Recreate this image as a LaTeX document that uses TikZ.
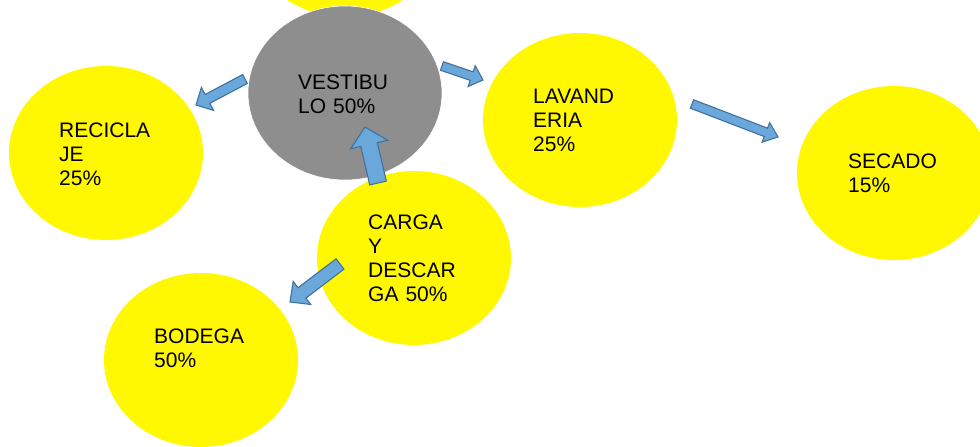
\documentclass[tikz,border=0pt]{standalone}
\usepackage{fontspec}
\setmainfont{Liberation Sans}
\usetikzlibrary{calc,shapes.geometric}

\definecolor{amarillo}{RGB}{255,248,0}
\definecolor{gris}{RGB}{142,142,142}
\definecolor{flecha}{RGB}{106,168,220}
\definecolor{bordeflecha}{RGB}{65,113,156}

% block arrow: tail, tip, half shaft, half head, head length
\newcommand\bloque[5]{%
  \coordinate (#2b) at ($(#2)!#5!(#1)$);
  \draw[flechabloque] ($(#1)!#3!90:(#2)$) -- ($(#2b)!#3!90:(#2)$)
    -- ($(#2b)!#4!90:(#2)$) -- (#2) -- ($(#2b)!#4!-90:(#2)$)
    -- ($(#2b)!#3!-90:(#2)$) -- ($(#1)!#3!-90:(#2)$) -- cycle;
}

\begin{document}
\begin{tikzpicture}[
x=1pt, y=-1pt,
bola/.style={
ellipse,
fill=amarillo,
minimum width=194pt,
minimum height=174pt,
inner sep=0pt
},
rotulo/.style={
anchor=base west,
inner sep=0pt,
align=left,
text width=120pt,
font=\fontsize{21}{24.3}\selectfont
},
flechabloque/.style={
draw=bordeflecha,
fill=flecha,
line width=1.1pt,
line join=miter
}
]
\useasboundingbox (0,0) rectangle (980,447);

\node[bola] (arriba) at (345,-70) {};
\node[bola] (rec) at (106,153) {};
\node[bola, fill=gris, draw=white, line width=0.6pt] (vest) at (345,93) {};
\node[bola] (lav) at (580,120) {};
\node[bola] (sec) at (894,173) {};
\node[bola] (car) at (414,258) {};
\node[bola] (bod) at (201,360) {};

\node[rotulo] (vest-t) at (298,89) {VESTIBU\\LO 50\%};
\node[rotulo] (rec-t) at (59,137) {RECICLA\\JE\\25\%};
\node[rotulo] (lav-t) at (533,103) {LAVAND\\ERIA\\25\%};
\node[rotulo] (sec-t) at (848,168) {SECADO\\15\%};
\node[rotulo] (car-t) at (368,229) {CARGA\\Y\\DESCAR\\GA 50\%};
\node[rotulo] (bod-t) at (154,343) {BODEGA\\50\%};

\coordinate (vr-cola) at (245,79);
\coordinate (vr-punta) at (196,105);
\coordinate (vl-cola) at (442,66);
\coordinate (vl-punta) at (483,80);
\coordinate (cv-cola) at (378,183);
\coordinate (cv-punta) at (365,127);
\coordinate (cb-cola) at (340,264);
\coordinate (cb-punta) at (290,302);
\coordinate (ls-cola) at (692,104);
\coordinate (ls-punta) at (778,137);

\bloque{vr-cola}{vr-punta}{5pt}{13pt}{13pt}
\bloque{vl-cola}{vl-punta}{4.5pt}{11pt}{12pt}
\bloque{cv-cola}{cv-punta}{8.5pt}{19pt}{18pt}
\bloque{cb-cola}{cb-punta}{6.5pt}{14.5pt}{15pt}
\bloque{ls-cola}{ls-punta}{4.5pt}{10.5pt}{13pt}

\end{tikzpicture}
\end{document}
